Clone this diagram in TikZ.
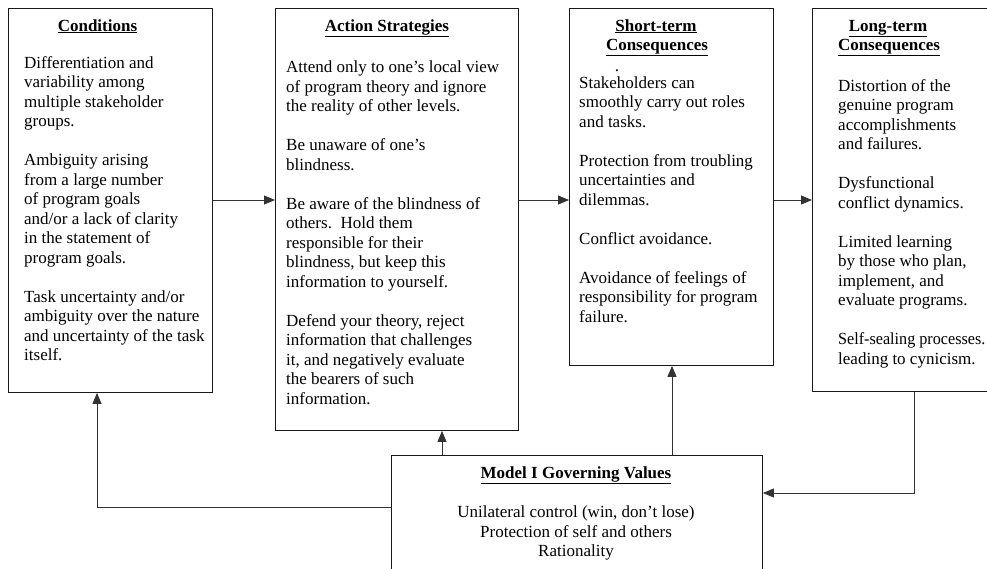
\documentclass[tikz,border=0pt]{standalone}
\usepackage{fontspec}
\setmainfont{Liberation Serif}
\usetikzlibrary{arrows.meta}
\begin{document}
\begin{tikzpicture}[x=1pt,y=-1pt,
  box/.style={draw=black!90, line width=0.9pt, inner sep=0pt, anchor=north west},
  txt/.style={anchor=north west, inner sep=0pt, align=left, font=\fontsize{17}{19.5}\selectfont},
  ttl/.style={anchor=base, inner sep=0pt, font=\fontsize{17}{19.5}\selectfont\bfseries},
  ctxt/.style={anchor=base, inner sep=0pt, font=\fontsize{17}{19.5}\selectfont},
  arr/.style={draw=black!80, line width=0.8pt, -{Triangle[length=11pt,width=9pt]}}]
\useasboundingbox (0,0) rectangle (987,568);
\begin{scope}
\clip (0,0) rectangle (987,568);
% boxes
\node[box, minimum width=204pt, minimum height=384pt] (cond) at (8,8) {};
\node[box, minimum width=243pt, minimum height=422pt] (act) at (275,8) {};
\node[box, minimum width=204pt, minimum height=357pt] (short) at (569,8) {};
\node[box, minimum width=190pt, minimum height=383pt] (long) at (812,8) {};
\node[box, minimum width=371pt, minimum height=130pt] (model) at (391,455) {};

% Conditions
\node[ttl] (condT) at (97.5,31) {\underline{Conditions}};
\node[txt] (condB) at (24,54) {\rule{0pt}{14pt}Differentiation and\\
variability among\\
multiple stakeholder\\
groups.\\[19.5pt]
Ambiguity arising\\
from a large number\\
of program goals\\
and/or a lack of clarity\\
in the statement of\\
program goals.\\[19.5pt]
Task uncertainty and/or\\
ambiguity over the nature\\
and uncertainty of the task\\
itself.};

% Action strategies
\node[ttl] (actT) at (387,31) {\underline{Action Strategies}};
\node[txt] (actB) at (286,58.5) {\rule{0pt}{14pt}Attend only to one’s local view\\
of program theory and ignore\\
the reality of other levels.\\[19.5pt]
Be unaware of one’s\\
blindness.\\[19.5pt]
Be aware of the blindness of\\
others.\ \ Hold them\\
responsible for their\\
blindness, but keep this\\
information to yourself.\\[19.5pt]
Defend your theory, reject\\
information that challenges\\
it, and negatively evaluate\\
the bearers of such\\
information.};

% Short-term
\node[ttl] (shortT1) at (656,31) {\underline{Short-term}};
\node[ttl] (shortT2) at (657,50.5) {\underline{Consequences}};
\node[ctxt] (shortDot) at (617,71) {.};
\node[txt] (shortB) at (579,74) {\rule{0pt}{14pt}Stakeholders can\\
smoothly carry out roles\\
and tasks.\\[19.5pt]
Protection from troubling\\
uncertainties and\\
dilemmas.\\[19.5pt]
Conflict avoidance.\\[19.5pt]
Avoidance of feelings of\\
responsibility for program\\
failure.};

% Long-term
\node[ttl] (longT1) at (888,31) {\underline{Long-term}};
\node[ttl] (longT2) at (889,50.5) {\underline{Consequences}};
\node[txt] (longB) at (838,77) {\rule{0pt}{14pt}Distortion of the\\
genuine program\\
accomplishments\\
and failures.\\[19.5pt]
Dysfunctional\\
conflict dynamics.\\[19.5pt]
Limited learning\\
by those who plan,\\
implement, and\\
evaluate programs.\\[19.5pt]
{\addfontfeature{FakeStretch=0.95}Self-sealing processes.}\\
leading to cynicism.};

% Model I
\node[ttl] (modelT) at (576,478) {\underline{Model I Governing Values}};
\node[ctxt] (modelL1) at (576,517.5) {Unilateral control (win, don’t lose)};
\node[ctxt] (modelL2) at (576,537) {Protection of self and others};
\node[ctxt] (modelL3) at (576,556.5) {Rationality};

% connectors
\coordinate (rowA) at (0,200);
\coordinate (rowL) at (0,507);
\coordinate (rowR) at (0,493);
\coordinate (colC) at (97,0);
\coordinate (colA) at (442,0);
\coordinate (colS) at (672,0);
\coordinate (colL) at (914,0);
\draw[arr] (cond.east |- rowA) -- (act.west |- rowA);
\draw[arr] (act.east |- rowA) -- (short.west |- rowA);
\draw[arr] (short.east |- rowA) -- (long.west |- rowA);
\draw[arr] (model.west |- rowL) -| (cond.south -| colC);
\draw[arr] (model.north -| colA) -- (act.south -| colA);
\draw[arr] (model.north -| colS) -- (short.south -| colS);
\draw[arr] (long.south -| colL) |- (model.east |- rowR);
\end{scope}
\end{tikzpicture}
\end{document}
